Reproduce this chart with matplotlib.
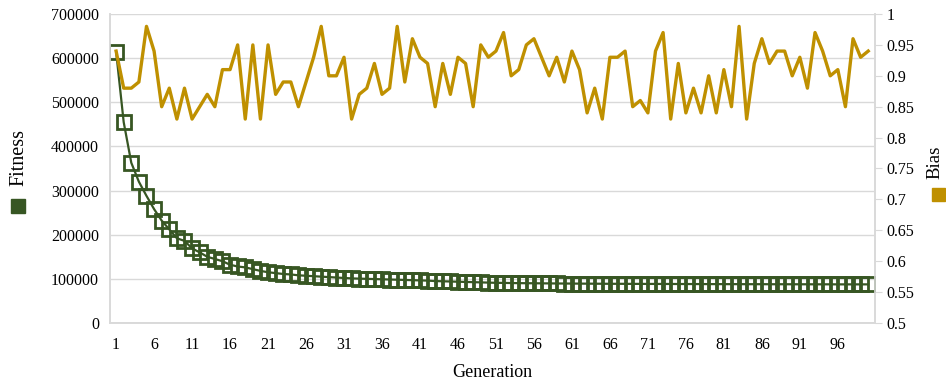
import matplotlib.pyplot as plt
from matplotlib.patches import Rectangle

# Data
generation = list(range(1, 101))
fitness = [
    615000, 455000, 363000, 320000, 288000, 258000, 232000, 212000, 192000, 186000,
    169000, 160000, 150000, 145000, 140000, 132000, 128000, 126000, 122000, 118000,
    115000, 113000, 111000, 110000, 108000, 107000, 106000, 105000, 104000, 103000,
    102000, 101000, 100500, 100000, 99500, 99000, 98500, 98000, 97500, 97000,
    96500, 96000, 95000, 94500, 94000, 93500, 93000, 92500, 92000, 91500,
    91000, 90800, 90500, 90300, 90100, 90000, 89800, 89700, 89500, 89400,
    89300, 89200, 89100, 89000, 88900, 88800, 88800, 88700, 88600, 88600,
    88500, 88500, 88400, 88400, 88300, 88300, 88200, 88200, 88100, 88100,
    88000, 88000, 88000, 87900, 87900, 87900, 87800, 87800, 87800, 87700,
    87700, 87700, 87600, 87600, 87600, 87500, 87500, 87500, 87500, 87500,
]
bias = [
    0.94, 0.88, 0.88, 0.89, 0.98, 0.94, 0.85, 0.88, 0.83, 0.88,
    0.83, 0.85, 0.87, 0.85, 0.91, 0.91, 0.95, 0.83, 0.95, 0.83,
    0.95, 0.87, 0.89, 0.89, 0.85, 0.89, 0.93, 0.98, 0.90, 0.90,
    0.93, 0.83, 0.87, 0.88, 0.92, 0.87, 0.88, 0.98, 0.89, 0.96,
    0.93, 0.92, 0.85, 0.92, 0.87, 0.93, 0.92, 0.85, 0.95, 0.93,
    0.94, 0.97, 0.90, 0.91, 0.95, 0.96, 0.93, 0.90, 0.93, 0.89,
    0.94, 0.91, 0.84, 0.88, 0.83, 0.93, 0.93, 0.94, 0.85, 0.86,
    0.84, 0.94, 0.97, 0.83, 0.92, 0.84, 0.88, 0.84, 0.90, 0.84,
    0.91, 0.85, 0.98, 0.83, 0.92, 0.96, 0.92, 0.94, 0.94, 0.90,
    0.93, 0.88, 0.97, 0.94, 0.90, 0.91, 0.85, 0.96, 0.93, 0.94,
]
xticks = list(range(1, 100, 5))
fit_ticks = list(range(0, 700001, 100000))
bias_ticks = [0.5, 0.55, 0.6, 0.65, 0.7, 0.75, 0.8, 0.85, 0.9, 0.95, 1]

green = '#375623'
gold = '#BF9000'
grid = '#D9D9D9'

plt.rcParams['font.family'] = ['Liberation Serif', 'DejaVu Serif']
plt.rcParams['font.size'] = 11.5

fig = plt.figure(figsize=(9.46, 3.87), dpi=100)
ax = fig.add_axes([0.1163, 0.1654, 0.925 - 0.1163, 0.9638 - 0.1654])
ax2 = ax.twinx()

ax.plot(generation, fitness, color=green, lw=1.6, marker='s', ms=10.5,
        mfc='none', mec=green, mew=2, zorder=3)
ax2.plot(generation, bias, color=gold, lw=2.4, zorder=2)

ax.set_xlim(0.2, 100.9)
ax.set_ylim(0, 700000)
ax2.set_ylim(0.5, 1)
ax.set_xticks(xticks)
ax.set_yticks(fit_ticks)
ax2.set_yticks(bias_ticks)
ax2.set_yticklabels([f'{v:g}' for v in bias_ticks])

ax.yaxis.grid(True, color=grid, lw=1)
ax.set_axisbelow(True)

for a in (ax, ax2):
    for s in a.spines.values():
        s.set_color(grid)
        s.set_linewidth(1.2)
    a.spines['top'].set_visible(False)
ax.tick_params(axis='x', length=0, pad=10)
ax.tick_params(axis='y', length=0, pad=8)
ax2.tick_params(axis='y', length=5, color=grid, pad=3)

ax.set_xlabel('Generation', fontsize=13, labelpad=8)

# axis titles with legend keys
fig.text(19 / 946, 1 - 158 / 387, 'Fitness', rotation=90, ha='center', va='center',
         fontsize=14.5)
fig.add_artist(Rectangle((11 / 946, 1 - 213 / 387), 14 / 946, 14 / 387,
                         transform=fig.transFigure, color=green))
fig.text(935 / 946, 1 - 162 / 387, 'Bias', rotation=90, ha='center', va='center',
         fontsize=13.5)
fig.add_artist(Rectangle((932 / 946, 1 - 201 / 387), 13 / 946, 13 / 387,
                         transform=fig.transFigure, color=gold))

plt.savefig('out.png', dpi=100)
plt.close()
